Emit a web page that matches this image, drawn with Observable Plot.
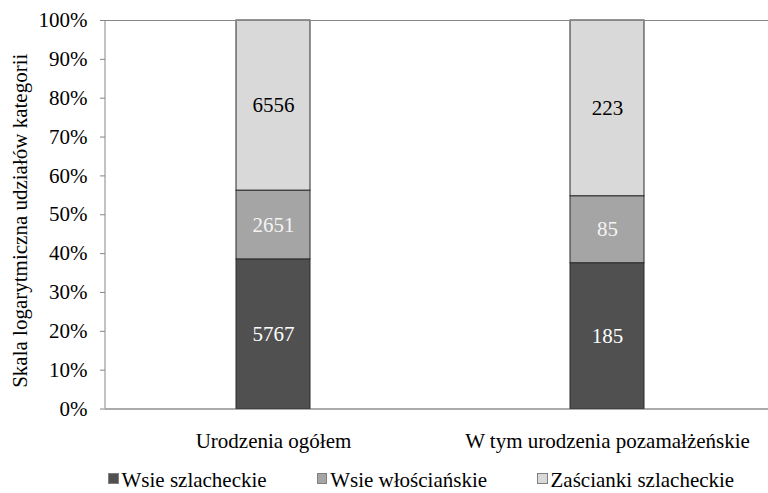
<!DOCTYPE html>
<html>
<head>
<meta charset="utf-8">
<script src="https://cdn.jsdelivr.net/npm/d3@7"></script>
<script src="https://cdn.jsdelivr.net/npm/@observablehq/plot@0.6"></script>
<style>
  html, body { margin: 0; padding: 0; background: #fff; overflow: hidden; }
  #wrap { position: relative; width: 768px; height: 493px; overflow: hidden; font-family: "Liberation Serif", "Times New Roman", serif; }
  #legend { position: absolute; left: 108px; top: 471px; display: flex; gap: 50px; font-size: 21px; line-height: 18px; color: #000; white-space: nowrap; }
  #legend .item { display: flex; align-items: center; }
  #legend .sw { width: 10.5px; height: 10.5px; box-sizing: border-box; border: 1px solid #7f7f7f; margin-right: 3px; position: relative; top: -1.5px; }
</style>
</head>
<body>
<div id="wrap"><div id="chart"></div><div id="legend"></div></div>
<script>
const categories = ["Urodzenia ogółem", "W tym urodzenia pozamałżeńskie"];
const seriesNames = ["Wsie szlacheckie", "Wsie włościańskie", "Zaścianki szlacheckie"];
const wsieSzlacheckie = [5767, 185];
const wsieWloscianskie = [2651, 85];
const zascianki = [6556, 223];
const seriesColors = ["#505050", "#a5a5a5", "#d9d9d9"];
const labelColors = ["#ffffff", "#f4f4f4", "#000000"];
const yTicks = [0, 0.1, 0.2, 0.3, 0.4, 0.5, 0.6, 0.7, 0.8, 0.9, 1];
const yLabel = "Skala logarytmiczna udziałów kategorii";

const seriesValues = [wsieSzlacheckie, wsieWloscianskie, zascianki];
const data = [];
seriesNames.forEach((s, si) => {
  categories.forEach((c, ci) => {
    data.push({category: c, series: s, value: seriesValues[si][ci], textColor: labelColors[si]});
  });
});

const H = 468;
const axisLine = (index, scales, values, dims) => {
  const ns = "http://www.w3.org/2000/svg";
  const l = document.createElementNS(ns, "line");
  l.setAttribute("x1", dims.marginLeft);
  l.setAttribute("x2", dims.marginLeft);
  l.setAttribute("y1", scales.y(1));
  l.setAttribute("y2", scales.y(0));
  l.setAttribute("stroke", "#868686");
  l.setAttribute("stroke-width", 1);
  return l;
};

const chart = Plot.plot({
  width: 768,
  height: H,
  marginLeft: 105,
  marginRight: 0,
  marginTop: 20,
  marginBottom: H - 408.5,
  style: {fontFamily: "'Liberation Serif', 'Times New Roman', serif", fontSize: "21px", color: "#000", background: "#fff"},
  x: {domain: categories, range: [105, 774.3], paddingInner: 0.779, paddingOuter: 0.39},
  y: {domain: [0, 1]},
  color: {domain: seriesNames, range: seriesColors},
  marks: [
    Plot.barY(data, Plot.stackY({x: "category", y: "value", z: "series", fill: "series", offset: "normalize", stroke: "#2b2b2b", strokeWidth: 1})),
    Plot.text(data, Plot.stackY({x: "category", y: "value", z: "series", offset: "normalize", text: d => String(d.value), fill: "textColor", fontSize: 21})),
    Plot.ruleY([1], {stroke: "#868686", strokeWidth: 1}),
    Plot.ruleY([0], {stroke: "#595959", strokeWidth: 1.2}),
    axisLine,
    Plot.axisY({ticks: yTicks, tickFormat: d3.format(".0%"), tickSize: 5, tickPadding: 13, fontSize: 21, stroke: "#868686", fill: "#000", label: null}),
    Plot.text([yLabel], {text: d => d, frameAnchor: "left", rotate: -90, textAnchor: "middle", lineAnchor: "middle", dx: -85.7, dy: 6, fontSize: 21, fill: "#000"}),
    Plot.axisX({tickSize: 0, tickPadding: 24, fontSize: 21, fill: "#000", label: null})
  ]
});
document.getElementById("chart").appendChild(chart);

const legend = document.getElementById("legend");
seriesNames.forEach((s, i) => {
  const item = document.createElement("div");
  item.className = "item";
  const sw = document.createElement("span");
  sw.className = "sw";
  sw.style.background = seriesColors[i];
  const t = document.createElement("span");
  t.textContent = s;
  item.appendChild(sw);
  item.appendChild(t);
  legend.appendChild(item);
});
</script>
</body>
</html>
